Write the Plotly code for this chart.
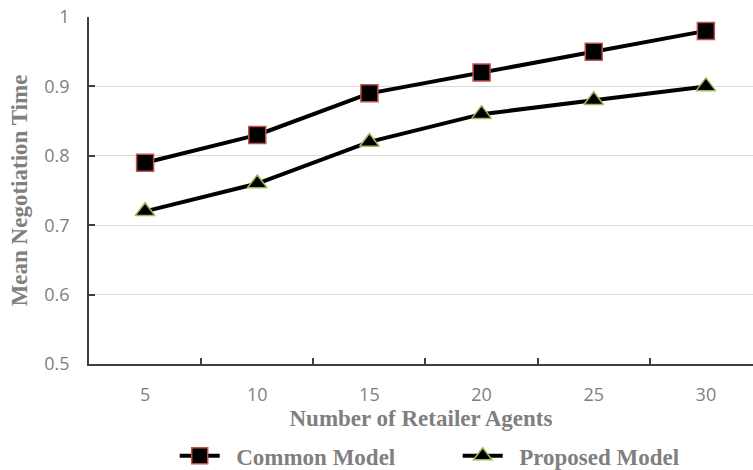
import plotly.graph_objects as go

# Number of retailer agents on the x axis
agents = [5, 10, 15, 20, 25, 30]
tick_labels = ["5", "10", "15", "20", "25", "30"]

# Mean negotiation time for each model
common_model = [0.79, 0.83, 0.89, 0.92, 0.95, 0.98]
proposed_model = [0.72, 0.76, 0.82, 0.86, 0.88, 0.90]

y_ticks = [0.5, 0.6, 0.7, 0.8, 0.9, 1.0]
y_tick_labels = ["0.5", "0.6", "0.7", "0.8", "0.9", "1"]

# tick marks between the categories
between_ticks = [7.5, 12.5, 17.5, 22.5, 27.5]

gray = "#7f7f7f"
title_font = dict(family="Liberation Serif", size=23, color=gray)
tick_font = dict(family="Open Sans", size=18, color=gray)
pad = "\u00a0\u00a0"

fig = go.Figure()
fig.add_trace(go.Scatter(
    x=agents, y=common_model, name=pad + "<b>Common Model</b>", mode="lines+markers",
    line=dict(color="black", width=4),
    marker=dict(symbol="square", size=17, color="black",
                line=dict(color="#c0504d", width=1.5)),
))
fig.add_trace(go.Scatter(
    x=agents, y=proposed_model, name=pad + "<b>Proposed Model</b>", mode="lines+markers",
    line=dict(color="black", width=4),
    marker=dict(symbol="triangle-up", size=17, color="black",
                line=dict(color="#9bbb59", width=1.5)),
))

fig.update_layout(
    width=753, height=470,
    margin=dict(l=89, r=0, t=17, b=106),
    plot_bgcolor="white", paper_bgcolor="white",
    showlegend=True,
    legend=dict(orientation="h", xref="container", yref="container",
                x=0.232, xanchor="left", y=0.03, yanchor="middle",
                font=dict(family="Liberation Serif", size=23, color=gray),
                itemwidth=40, entrywidthmode="pixels", entrywidth=228),
    xaxis=dict(
        range=[2.5, 32.1], tickvals=agents, ticktext=tick_labels,
        ticks="", showgrid=False, zeroline=False,
        showline=True, linecolor="#404040", linewidth=1.5,
        tickfont=tick_font, ticklabelstandoff=14,
        minor=dict(tickvals=between_ticks, ticks="inside", ticklen=6,
                   tickcolor="#404040", tickwidth=1.5, showgrid=False),
        title=dict(text="<b>Number of Retailer Agents</b>", font=title_font, standoff=2),
    ),
    yaxis=dict(
        range=[0.5, 1.0], tickvals=y_ticks, ticktext=y_tick_labels,
        ticks="inside", ticklen=6, tickcolor="#404040", tickwidth=1.5,
        showgrid=True, gridcolor="#d9d9d9", gridwidth=1, zeroline=False,
        showline=True, linecolor="#404040", linewidth=1.5,
        tickfont=tick_font, ticklabelstandoff=14,
        title=dict(text="<b>Mean Negotiation Time</b>", font=title_font, standoff=10),
    ),
)

fig.write_html("out.html")
